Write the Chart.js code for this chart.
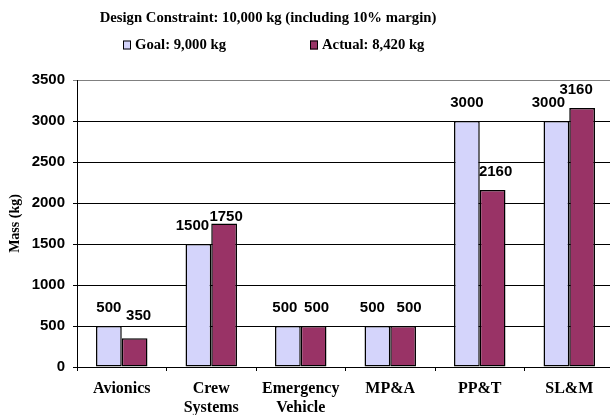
<!DOCTYPE html>
<html>
<head>
<meta charset="utf-8">
<script src="https://cdn.jsdelivr.net/npm/chart.js@4"></script>
<style>
  html, body { margin: 0; padding: 0; background: #ffffff; overflow: hidden; }
  #wrap { width: 614px; height: 415px; }
</style>
</head>
<body>
<div id="wrap"><canvas id="massChart" width="614" height="415"></canvas></div>
<script>
// Subsystem mass budget
const categories = ['Avionics', ['Crew', 'Systems'], ['Emergency', 'Vehicle'], 'MP&A', 'PP&T', 'SL&M'];
const goalMass = [500, 1500, 500, 500, 3000, 3000];
const actualMass = [350, 1750, 500, 500, 2160, 3160];
const yTicks = [0, 500, 1000, 1500, 2000, 2500, 3000, 3500];
const chartTitle = 'Design Constraint: 10,000 kg (including 10% margin)';
const goalLabel = 'Goal: 9,000 kg';
const actualLabel = 'Actual: 8,420 kg';

const SERIF = '"Liberation Serif", "Times New Roman", serif';
const SANS = '"Liberation Sans", Arial, sans-serif';

// Title and legend block drawn above the plot
const headerPlugin = {
  id: 'headerBlock',
  afterDraw(chart, args, opts) {
    const ctx = chart.ctx;
    ctx.save();
    ctx.fillStyle = '#000';
    ctx.font = 'bold 14.7px ' + SERIF;
    ctx.textAlign = 'center';
    ctx.textBaseline = 'middle';
    ctx.fillText(opts.title, opts.titleX, opts.titleY);
    ctx.textAlign = 'left';
    chart.data.datasets.forEach((ds, i) => {
      const bx = opts.itemX[i];
      ctx.fillStyle = ds.backgroundColor;
      ctx.fillRect(bx, opts.legendY - 4.5, 8, 9);
      ctx.strokeStyle = '#000';
      ctx.lineWidth = 1;
      ctx.strokeRect(bx + 0.5, opts.legendY - 4.5 + 0.5, 7, 8);
      ctx.fillStyle = '#000';
      ctx.fillText(ds.label, bx + 12, opts.legendY);
    });
    ctx.restore();
  }
};

// Value labels above each bar
const valueLabelPlugin = {
  id: 'valueLabels',
  afterDatasetsDraw(chart, args, opts) {
    const ctx = chart.ctx;
    ctx.save();
    ctx.font = 'bold 15px ' + SANS;
    ctx.fillStyle = '#000';
    ctx.textAlign = 'center';
    ctx.textBaseline = 'alphabetic';
    chart.data.datasets.forEach((ds, di) => {
      const meta = chart.getDatasetMeta(di);
      meta.data.forEach((bar, i) => {
        const nudge = (opts.nudge[di] && opts.nudge[di][i]) || [0, 0];
        ctx.fillText(String(ds.data[i]), bar.x + nudge[0], bar.y - 14 + nudge[1]);
      });
    });
    ctx.restore();
  }
};

new Chart(document.getElementById('massChart'), {
  type: 'bar',
  data: {
    labels: categories,
    datasets: [
      {
        label: goalLabel,
        data: goalMass,
        backgroundColor: '#D4D4FB',
        borderColor: '#000000',
        borderWidth: 1.5,
        borderSkipped: false,
        categoryPercentage: 0.575,
        barPercentage: 1.0
      },
      {
        label: actualLabel,
        data: actualMass,
        backgroundColor: '#993366',
        borderColor: '#000000',
        borderWidth: 1.5,
        borderSkipped: false,
        categoryPercentage: 0.575,
        barPercentage: 1.0
      }
    ]
  },
  options: {
    responsive: false,
    animation: false,
    devicePixelRatio: 1,
    layout: { padding: { top: 80, left: 0, right: 0, bottom: 0 } },
    plugins: {
      legend: { display: false },
      title: { display: false },
      tooltip: { enabled: false },
      headerBlock: {
        title: chartTitle,
        titleX: 268,
        titleY: 18,
        legendY: 45,
        itemX: [123, 310]
      },
      valueLabels: {
        nudge: [
          [[0, 0], [-6, 0], [-3, 0], [-5, 0], [0, 0], [-8, 0]],
          [[4, -4], [2, 11], [3, 0], [6, 0], [3, 0], [-6, 0]]
        ]
      }
    },
    scales: {
      x: {
        offset: true,
        grid: {
          offset: true,
          drawOnChartArea: false,
          drawTicks: true,
          tickLength: 4,
          color: '#000'
        },
        border: { display: true, color: '#000', width: 1 },
        ticks: {
          color: '#000',
          padding: 8,
          maxRotation: 0,
          autoSkip: false,
          font: { family: SERIF, size: 16, weight: 'bold', lineHeight: 1.2 }
        },
        afterFit(scale) { scale.height = 48; }
      },
      y: {
        min: 0,
        max: 3500,
        afterBuildTicks(scale) { scale.ticks = yTicks.map(v => ({ value: v })); },
        grid: {
          color: (c) => (c.tick && c.tick.value === 3500 ? '#808080' : '#000'),
          lineWidth: 1,
          drawTicks: true,
          tickLength: 4
        },
        border: { display: true, color: '#000', width: 1 },
        ticks: {
          color: '#000',
          padding: 8,
          callback: (v) => String(v),
          font: { family: SANS, size: 15, weight: 'bold' }
        },
        title: {
          display: true,
          text: 'Mass (kg)',
          color: '#000',
          padding: { top: 7, bottom: 0 },
          font: { family: SERIF, size: 14, weight: 'bold', lineHeight: 1.2 }
        },
        afterFit(scale) { scale.width = 77; }
      }
    }
  },
  plugins: [headerPlugin, valueLabelPlugin]
});
</script>
</body>
</html>
